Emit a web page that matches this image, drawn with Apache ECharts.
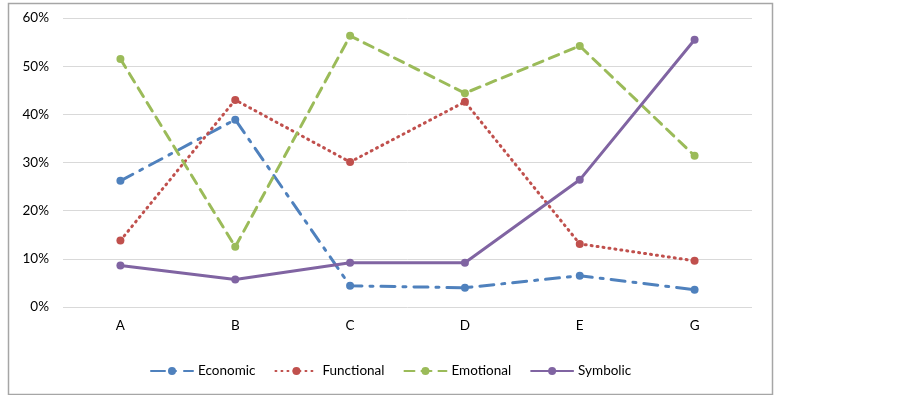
<!DOCTYPE html>
<html>
<head>
<meta charset="utf-8">
<script src="https://cdn.jsdelivr.net/npm/echarts@6/dist/echarts.min.js"></script>
<style>
  html, body { margin: 0; padding: 0; background: #fff; }
  #draw { width: 902px; height: 395px; }
</style>
</head>
<body>
<div id="draw"></div>
<script>
// categories and values (percent)
var categories = ['A', 'B', 'C', 'D', 'E', 'G'];
var economic = [26.2, 38.9, 4.4, 4.0, 6.5, 3.6];
var functional = [13.8, 43.0, 30.1, 42.6, 13.1, 9.6];
var emotional = [51.5, 12.5, 56.3, 44.4, 54.2, 31.4];
var symbolic = [8.6, 5.7, 9.2, 9.2, 26.4, 55.5];
var yTicks = [0, 10, 20, 30, 40, 50, 60];

var font = 'Lato';

var myChart = echarts.init(document.getElementById('draw'));

function makeSeries(name, data, color, dash) {
	return {
		name: name,
		type: 'line',
		data: data,
		symbol: 'circle',
		symbolSize: 8,
		color: color,
		lineStyle: {
			width: 3,
			type: dash,
			cap: 'round'
		},
		itemStyle: {
			color: color
		},
		emphasis: { disabled: true }
	};
}

var option = {
	animation: false,
	textStyle: { fontFamily: font },
	graphic: [{
		type: 'rect',
		left: 6,
		top: 1,
		shape: { width: 764, height: 391 },
		style: { fill: 'none', stroke: '#a6a6a6', lineWidth: 1.5 },
		silent: true
	}],
	grid: {
		left: 63,
		right: 150,
		top: 18,
		bottom: 88
	},
	legend: {
		top: 359,
		left: 145,
		itemWidth: 42,
		itemHeight: 10,
		itemGap: 19,
		textStyle: { fontFamily: font, fontSize: 13.5, color: '#000' },
		data: ['Economic', 'Functional', 'Emotional', 'Symbolic']
	},
	xAxis: {
		type: 'category',
		data: categories,
		boundaryGap: true,
		axisLine: { show: false },
		axisTick: { show: false },
		axisLabel: { margin: 12, fontFamily: font, fontSize: 13.5, color: '#000' }
	},
	yAxis: {
		type: 'value',
		min: yTicks[0],
		max: yTicks[yTicks.length - 1],
		interval: 10,
		axisLine: { show: false },
		axisTick: { show: false },
		axisLabel: {
			margin: 14,
			fontFamily: font,
			fontSize: 13.5,
			color: '#000',
			formatter: '{value}%'
		},
		splitLine: { lineStyle: { color: '#d9d9d9', width: 1 } }
	},
	series: [
		makeSeries('Economic', economic, '#4f81bd', [14, 8, 3, 8]),
		makeSeries('Functional', functional, '#c0504d', [1, 5]),
		makeSeries('Emotional', emotional, '#9bbb59', [10, 7]),
		makeSeries('Symbolic', symbolic, '#8064a2', 'solid')
	]
};
myChart.setOption(option);
</script>
</body>
</html>
